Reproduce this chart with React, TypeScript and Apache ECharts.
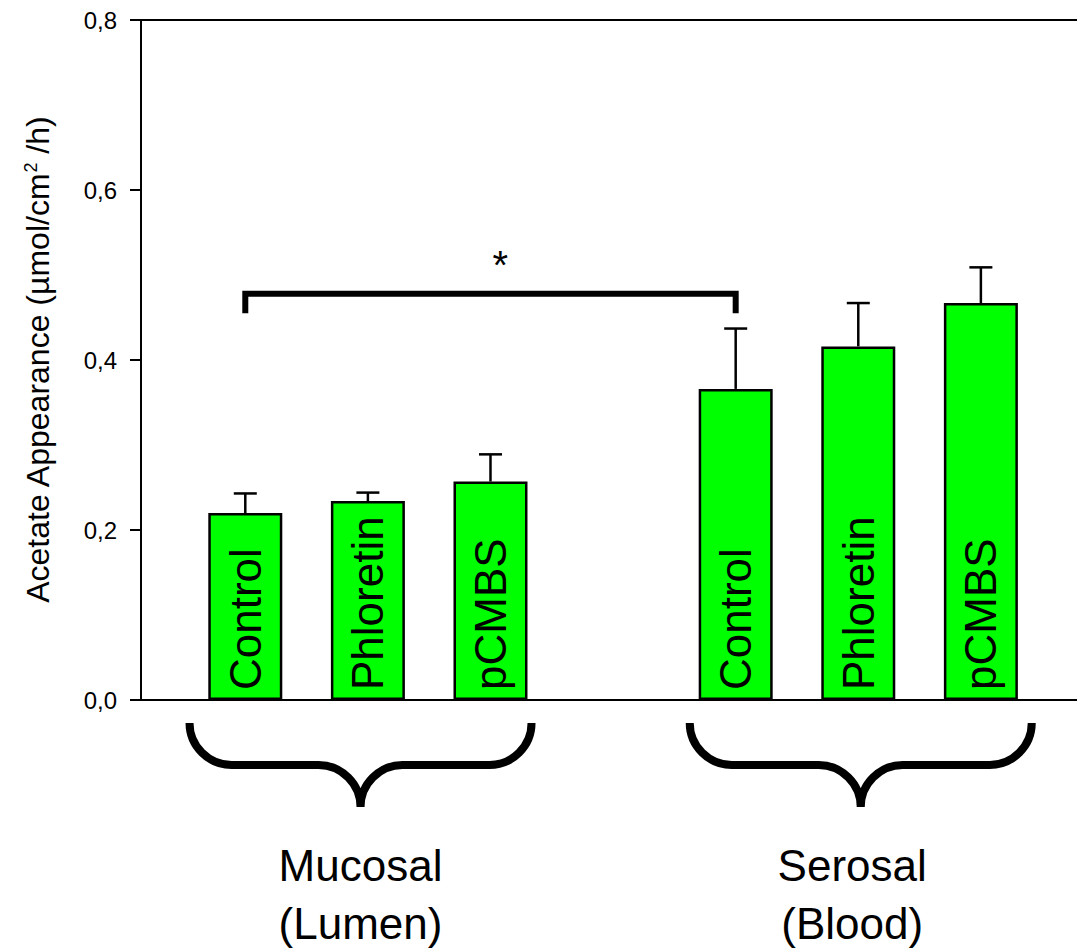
import React, { useEffect, useRef } from "react";
import * as echarts from "echarts";

// ---- data ----
const categories = ["Control", "Phloretin", "pCMBS", "Control", "Phloretin", "pCMBS"];
const positions = [1, 2, 3, 5, 6, 7];
const means = [0.22, 0.234, 0.257, 0.366, 0.416, 0.467];
const upperErr = [0.243, 0.244, 0.289, 0.437, 0.467, 0.509];
const yTickValues = [0, 0.2, 0.4, 0.6, 0.8];
const groupLabels = ["Mucosal\n(Lumen)", "Serosal\n(Blood)"];
const braceCenters = [1.94, 6.02];
const labelCenters = [1.94, 5.95];
const sigFrom = 1;
const sigTo = 5;
const sigLevel = 0.478;
const sigLegEnd = 0.455;
const sigMark = "*";
const sigMarkPos = 3.08;
const sigMarkLevel = 0.512;

const FONT = "'Liberation Sans', Arial, sans-serif";

const braceD =
  "M -171 0 C -171 23 -152 42 -129 42 L -42 42 C -19 42 0 61 0 84 " +
  "M 171 0 C 171 23 152 42 129 42 L 42 42 C 19 42 0 61 0 84";
try {
  echarts.graphic.registerShape("brace", echarts.graphic.extendPath(braceD, {}) as any);
} catch (e) {}

export default function App() {
  const ref = useRef<HTMLDivElement>(null);
  useEffect(() => {
    if (!ref.current) return;
    const chart = echarts.init(ref.current, undefined, { renderer: "svg" });
    const xMin = 0.1493;
    const xMax = 7.784;
    const axisLine = { show: true, lineStyle: { color: "#000", width: 2 } };
    const option: any = {
      animation: false,
      backgroundColor: "#fff",
      grid: { left: 141, right: 0, top: 20, bottom: 250, containLabel: false },
      xAxis: [
        {
          type: "value",
          min: xMin,
          max: xMax,
          position: "bottom",
          axisLine: { ...axisLine, onZero: false },
          axisTick: { show: false },
          axisLabel: { show: false },
          splitLine: { show: false },
        },
        {
          type: "value",
          min: xMin,
          max: xMax,
          position: "top",
          axisLine: { ...axisLine, onZero: false },
          axisTick: { show: false },
          axisLabel: { show: false },
          splitLine: { show: false },
        },
      ],
      yAxis: {
        type: "value",
        min: yTickValues[0],
        max: yTickValues[yTickValues.length - 1],
        interval: 0.2,
        axisLine,
        axisTick: { show: true, inside: false, length: 11, lineStyle: { color: "#000", width: 2 } },
        axisLabel: {
          margin: 24,
          fontSize: 24,
          color: "#000",
          fontFamily: FONT,
          formatter: (v: number) => v.toFixed(1).replace(".", ","),
        },
        splitLine: { show: false },
        name: "Acetate Appearance (µmol/cm{sup|2} /h)",
        nameLocation: "middle",
        nameGap: 87,
        nameTextStyle: {
          fontSize: 32,
          color: "#000",
          fontFamily: FONT,
          rich: {
            sup: { fontSize: 18, verticalAlign: "top", fontFamily: FONT, color: "#000", padding: [0, 0, 14, 0] },
          },
        },
      },
      series: [
        {
          type: "bar",
          barWidth: 74,
          data: positions.map((p, i) => [p, means[i]]),
          itemStyle: { color: "#00ff00", borderColor: "#000", borderWidth: 2.5 },
          label: {
            show: true,
            position: "insideBottom",
            rotate: 90,
            align: "left",
            verticalAlign: "middle",
            distance: 10,
            fontSize: 44,
            color: "#000",
            fontFamily: FONT,
            formatter: (p: any) => categories[p.dataIndex],
          },
          z: 2,
        },
        {
          type: "custom",
          data: positions.map((p, i) => [p, means[i], upperErr[i]]),
          encode: { x: 0, y: [1, 2] },
          z: 3,
          renderItem: (params: any, api: any) => {
            const x = api.value(0);
            const p0 = api.coord([x, api.value(1)]);
            const p1 = api.coord([x, api.value(2)]);
            const st = { stroke: "#000", lineWidth: 2.5 };
            return {
              type: "group",
              children: [
                { type: "line", shape: { x1: p0[0], y1: p0[1], x2: p1[0], y2: p1[1] }, style: st },
                { type: "line", shape: { x1: p1[0] - 11.5, y1: p1[1], x2: p1[0] + 11.5, y2: p1[1] }, style: st },
              ],
            };
          },
        },
        {
          type: "custom",
          data: [[sigFrom, sigTo, sigLevel, sigLegEnd, sigMarkPos, sigMarkLevel]],
          encode: { x: [0, 1], y: [2, 3] },
          z: 4,
          renderItem: (params: any, api: any) => {
            const a = api.coord([api.value(0), api.value(3)]);
            const b = api.coord([api.value(0), api.value(2)]);
            const c = api.coord([api.value(1), api.value(2)]);
            const d = api.coord([api.value(1), api.value(3)]);
            const m = api.coord([api.value(4), api.value(5)]);
            return {
              type: "group",
              children: [
                {
                  type: "polyline",
                  shape: { points: [a, b, c, d] },
                  style: { stroke: "#000", lineWidth: 6, fill: null, lineJoin: "miter" },
                },
                {
                  type: "text",
                  x: m[0],
                  y: m[1],
                  style: {
                    text: sigMark,
                    fontSize: 40,
                    fontFamily: FONT,
                    fill: "#000",
                    align: "center",
                    verticalAlign: "middle",
                  },
                },
              ],
            };
          },
        },
      ],
    };
    chart.setOption(option);

    const y0 = chart.convertToPixel({ yAxisIndex: 0 }, 0) as number;
    const graphics: any[] = [];
    braceCenters.forEach((c) => {
      const cx = chart.convertToPixel({ xAxisIndex: 0 }, c) as number;
      graphics.push({
        type: "brace",
        x: cx,
        y: y0 + 23,
        style: { stroke: "#000", lineWidth: 8, fill: "none" },
      });
    });
    labelCenters.forEach((c, i) => {
      const cx = chart.convertToPixel({ xAxisIndex: 0 }, c) as number;
      graphics.push({
        type: "text",
        x: cx,
        y: y0 + 136,
        style: {
          text: groupLabels[i],
          fontSize: 44,
          lineHeight: 58,
          fontFamily: FONT,
          fill: "#000",
          align: "center",
          verticalAlign: "top",
          textAlign: "center",
          textVerticalAlign: "top",
        },
      });
    });
    chart.setOption({ graphic: graphics });

    return () => chart.dispose();
  }, []);
  return (
    <div
      ref={ref}
      style={{ position: "absolute", left: 0, top: 0, width: 1077, height: 950 }}
    />
  );
}
